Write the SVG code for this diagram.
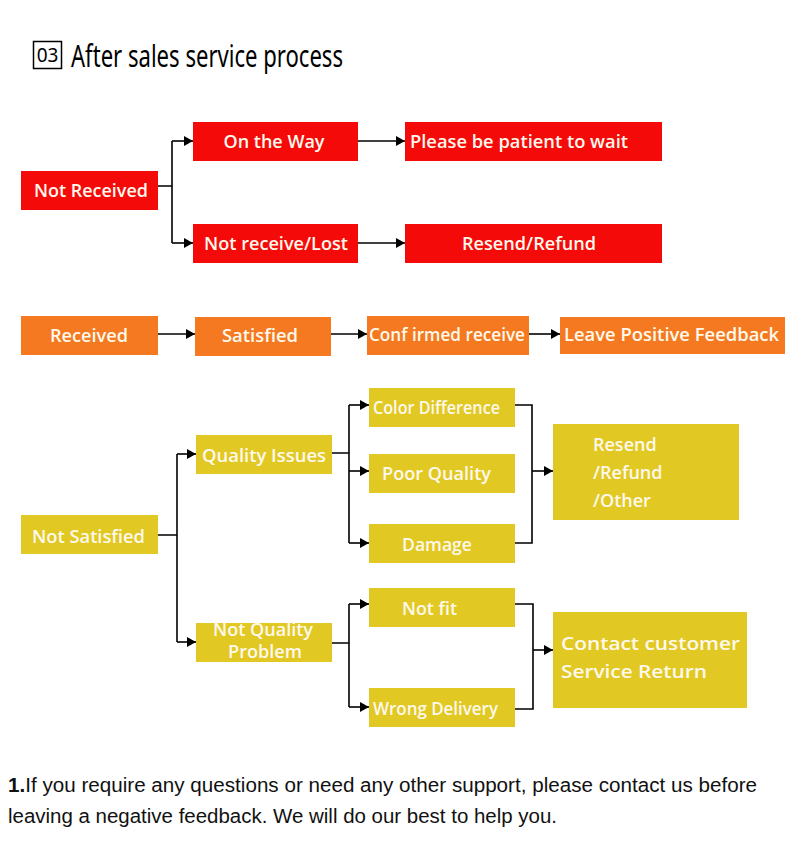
<svg xmlns="http://www.w3.org/2000/svg" width="790" height="849" viewBox="0 0 790 849">
<defs>
<marker id="ah" markerWidth="9" markerHeight="10" refX="9" refY="5" orient="auto" markerUnits="userSpaceOnUse"><path d="M0,0 L9,5 L0,10 Z" fill="#000"/></marker>
<style>
.red{fill:#F50A0A}
.org{fill:#F47920}
.yel{fill:#E1C823}
.t{font-family:"Open Sans","Noto Sans",sans-serif;font-weight:600;fill:#FFF9EC;font-size:18px}
.c{text-anchor:middle}
.ln{fill:none;stroke:#000;stroke-width:1.6}
.ar{fill:none;stroke:#000;stroke-width:1.6;marker-end:url(#ah)}
</style>
</defs>
<rect width="790" height="849" fill="#fff"/>
<g id="title">
<rect x="33.5" y="41.5" width="28" height="27" fill="none" stroke="#000" stroke-width="1.5"/>
<text x="47.5" y="62" text-anchor="middle" font-family="Noto Sans, sans-serif" font-size="19" fill="#000">03</text>
<text x="71" y="67" font-family="Noto Sans, sans-serif" font-size="30" fill="#000" textLength="272" lengthAdjust="spacingAndGlyphs">After sales service process</text>
</g>
<g id="connectors">
<path class="ln" d="M158,186 H172 M172,141 V243"/>
<path class="ar" d="M172,141 H193"/>
<path class="ar" d="M172,243 H193"/>
<path class="ar" d="M358,141 H405"/>
<path class="ar" d="M358,243 H405"/>
<path class="ar" d="M158,334 H195"/>
<path class="ar" d="M331,334 H367"/>
<path class="ar" d="M529,334 H560"/>
<path class="ln" d="M158,535 H177 M177,454 V642"/>
<path class="ar" d="M177,454 H196"/>
<path class="ar" d="M177,642 H196"/>
<path class="ln" d="M332,453 H349 M349,405 V543"/>
<path class="ar" d="M349,405 H369"/>
<path class="ar" d="M349,471 H369"/>
<path class="ar" d="M349,543 H369"/>
<path class="ln" d="M515,405 H532 V543 H515"/>
<path class="ar" d="M532,471 H553"/>
<path class="ln" d="M332,643 H349 M349,604 V707"/>
<path class="ar" d="M349,604 H369"/>
<path class="ar" d="M349,707 H369"/>
<path class="ln" d="M515,604 H533 V709 H515"/>
<path class="ar" d="M533,650 H553"/>
</g>
<g id="not-received"><rect class="red" x="21" y="171" width="137" height="39"/><text class="t c" x="91" y="197" textLength="114" lengthAdjust="spacingAndGlyphs">Not Received</text></g>
<g id="on-the-way"><rect class="red" x="193" y="122" width="165" height="39"/><text class="t c" x="274" y="148">On the Way</text></g>
<g id="not-receive-lost"><rect class="red" x="193" y="224" width="165" height="39"/><text class="t c" x="276" y="250" textLength="144" lengthAdjust="spacingAndGlyphs">Not receive/Lost</text></g>
<g id="please-wait"><rect class="red" x="405" y="122" width="257" height="39"/><text class="t" x="410" y="148" textLength="218" lengthAdjust="spacingAndGlyphs">Please be patient to wait</text></g>
<g id="resend-refund"><rect class="red" x="405" y="224" width="257" height="39"/><text class="t c" x="529" y="250" textLength="134" lengthAdjust="spacingAndGlyphs">Resend/Refund</text></g>
<g id="received"><rect class="org" x="21" y="316" width="137" height="39"/><text class="t c" x="89" y="342" textLength="78" lengthAdjust="spacingAndGlyphs">Received</text></g>
<g id="satisfied"><rect class="org" x="195" y="317" width="136" height="39"/><text class="t c" x="260" y="342" textLength="76" lengthAdjust="spacingAndGlyphs">Satisfied</text></g>
<g id="confirmed-receive"><rect class="org" x="367" y="316" width="162" height="39"/><text class="t" x="369" y="341" textLength="156" lengthAdjust="spacingAndGlyphs">Conf irmed receive</text></g>
<g id="leave-feedback"><rect class="org" x="560" y="317" width="225" height="37"/><text class="t" x="564" y="341" textLength="215" lengthAdjust="spacingAndGlyphs">Leave Positive Feedback</text></g>
<g id="not-satisfied"><rect class="yel" x="21" y="515" width="137" height="39"/><text class="t" x="32" y="543" textLength="113" lengthAdjust="spacingAndGlyphs">Not Satisfied</text></g>
<g id="quality-issues"><rect class="yel" x="196" y="435" width="136" height="39"/><text class="t" x="202" y="462" textLength="124" lengthAdjust="spacingAndGlyphs">Quality Issues</text></g>
<g id="not-quality-problem"><rect class="yel" x="196" y="623" width="136" height="39"/><text class="t c" x="263" y="636" font-size="14" textLength="100" lengthAdjust="spacingAndGlyphs">Not Quality</text><text class="t c" x="265" y="658" font-size="14" textLength="74" lengthAdjust="spacingAndGlyphs">Problem</text></g>
<g id="color-difference"><rect class="yel" x="369" y="388" width="146" height="39"/><text class="t" x="373" y="414" font-size="16" textLength="127" lengthAdjust="spacingAndGlyphs">Color Difference</text></g>
<g id="poor-quality"><rect class="yel" x="369" y="454" width="146" height="39"/><text class="t" x="382" y="480" textLength="109" lengthAdjust="spacingAndGlyphs">Poor Quality</text></g>
<g id="damage"><rect class="yel" x="369" y="524" width="146" height="39"/><text class="t" x="402" y="551" textLength="70" lengthAdjust="spacingAndGlyphs">Damage</text></g>
<g id="resend-refund-other"><rect class="yel" x="553" y="424" width="186" height="96"/><text class="t" x="593" y="451" font-size="19">Resend</text><text class="t" x="593" y="479" font-size="19">/Refund</text><text class="t" x="593" y="507" font-size="19">/Other</text></g>
<g id="not-fit"><rect class="yel" x="369" y="588" width="146" height="39"/><text class="t" x="402" y="615" textLength="55" lengthAdjust="spacingAndGlyphs">Not fit</text></g>
<g id="wrong-delivery"><rect class="yel" x="369" y="688" width="146" height="39"/><text class="t" x="373" y="715" font-size="17" textLength="125" lengthAdjust="spacingAndGlyphs">Wrong Delivery</text></g>
<g id="contact-service"><rect class="yel" x="553" y="612" width="194" height="96"/><text class="t" x="561" y="650" font-size="20" textLength="179" lengthAdjust="spacingAndGlyphs">Contact customer</text><text class="t" x="561" y="678" font-size="20" textLength="146" lengthAdjust="spacingAndGlyphs">Service Return</text></g>
<g id="note" font-family="Liberation Sans, Arial, sans-serif" font-size="20" fill="#111">
<text x="8" y="792" textLength="749" lengthAdjust="spacingAndGlyphs"><tspan font-weight="bold">1.</tspan>If you require any questions or need any other support, please contact us before</text>
<text x="8" y="823" textLength="549" lengthAdjust="spacingAndGlyphs">leaving a negative feedback. We will do our best to help you.</text>
</g>
</svg>
